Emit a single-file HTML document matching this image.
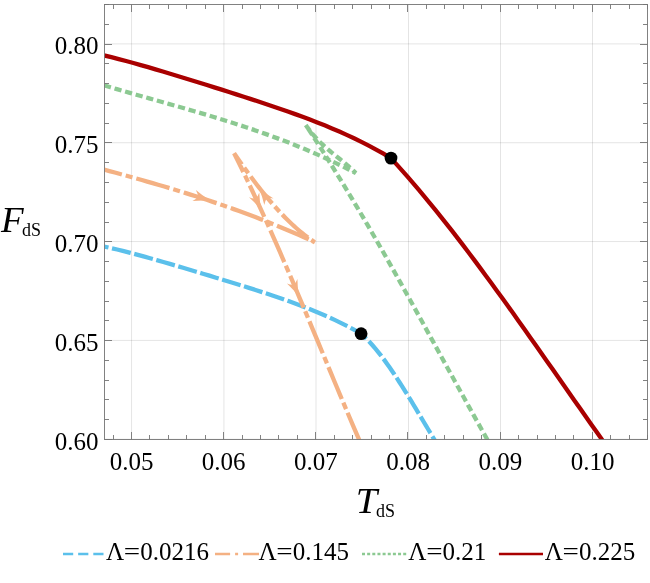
<!DOCTYPE html>
<html><head><meta charset="utf-8"><title>F_dS vs T_dS</title>
<style>
html,body{margin:0;padding:0;background:#fff;}
body{width:650px;height:583px;position:relative;overflow:hidden;font-family:"Liberation Serif",serif;}
</style></head><body>
<svg width="650" height="583" viewBox="0 0 650 583" style="position:absolute;left:0;top:0;will-change:transform">
<rect x="0" y="0" width="650" height="583" fill="#ffffff"/>
<g stroke="#000" stroke-opacity="0.13" stroke-width="0.85" fill="none"><line x1="131.57" y1="4.50" x2="131.57" y2="439.50"/><line x1="223.95" y1="4.50" x2="223.95" y2="439.50"/><line x1="316.00" y1="4.50" x2="316.00" y2="439.50"/><line x1="408.50" y1="4.50" x2="408.50" y2="439.50"/><line x1="500.50" y1="4.50" x2="500.50" y2="439.50"/><line x1="592.50" y1="4.50" x2="592.50" y2="439.50"/><line x1="104.50" y1="439.24" x2="647.50" y2="439.24"/><line x1="104.50" y1="340.40" x2="647.50" y2="340.40"/><line x1="104.50" y1="241.57" x2="647.50" y2="241.57"/><line x1="104.50" y1="142.73" x2="647.50" y2="142.73"/><line x1="104.50" y1="43.90" x2="647.50" y2="43.90"/></g>
<defs><clipPath id="c"><rect x="104.50" y="4.50" width="543.00" height="435.00"/></clipPath></defs>
<g clip-path="url(#c)" fill="none" stroke-width="4.30" stroke-linejoin="miter"><path d="M104.00 246.52 L110.59 247.98 L117.18 249.53 L123.77 251.15 L130.36 252.84 L136.95 254.58 L143.54 256.37 L150.13 258.20 L156.72 260.07 L163.31 261.96 L169.90 263.88 L176.49 265.81 L183.08 267.77 L189.67 269.73 L196.26 271.71 L202.85 273.69 L209.44 275.68 L216.03 277.69 L222.62 279.70 L229.21 281.72 L235.79 283.76 L242.38 285.81 L248.97 287.88 L255.56 289.98 L262.15 292.12 L268.74 294.28 L275.33 296.49 L281.92 298.76 L288.51 301.08 L295.10 303.47 L301.69 305.94 L308.28 308.50 L314.87 311.16 L321.46 313.93 L328.05 316.83 L334.64 319.86 L341.23 323.06 L347.82 326.41 L354.41 329.96 L361.00 333.70 L363.03 335.50 L365.05 337.41 L367.08 339.41 L369.10 341.51 L371.13 343.70 L373.15 345.98 L375.18 348.35 L377.21 350.80 L379.23 353.33 L381.26 355.94 L383.28 358.61 L385.31 361.36 L387.33 364.17 L389.36 367.04 L391.38 369.97 L393.41 372.96 L395.44 375.99 L397.46 379.08 L399.49 382.21 L401.51 385.38 L403.54 388.59 L405.56 391.83 L407.59 395.10 L409.62 398.40 L411.64 401.73 L413.67 405.07 L415.69 408.44 L417.72 411.81 L419.74 415.20 L421.77 418.59 L423.79 421.99 L425.82 425.38 L427.85 428.77 L429.87 432.16 L431.90 435.54 L433.92 438.90 L435.95 442.24 L437.97 445.56 L440.00 448.86" stroke="#5bc0eb" stroke-dasharray="19.3 3.6" stroke-dashoffset="14.7"/><path d="M104.00 169.61 L109.41 171.07 L114.81 172.53 L120.22 174.01 L125.62 175.50 L131.03 177.00 L136.43 178.51 L141.84 180.04 L147.24 181.58 L152.65 183.14 L158.05 184.72 L163.46 186.31 L168.86 187.92 L174.27 189.56 L179.67 191.21 L185.08 192.89 L190.48 194.59 L195.89 196.31 L201.29 198.06 L206.70 199.83 L212.10 201.63 L217.51 203.46 L222.91 205.32 L228.32 207.20 L233.72 209.12 L239.13 211.07 L244.53 213.05 L249.94 215.06 L255.34 217.11 L260.75 219.20 L266.15 221.32 L271.56 223.48 L276.96 225.67 L282.37 227.91 L287.77 230.18 L293.18 232.50 L298.58 234.86 L303.99 237.26 L309.39 239.71 L314.80 242.20 L312.73 240.85 L310.66 239.45 L308.59 237.98 L306.52 236.46 L304.45 234.88 L302.38 233.24 L300.32 231.55 L298.25 229.80 L296.18 228.00 L294.11 226.15 L292.04 224.25 L289.97 222.29 L287.90 220.29 L285.83 218.23 L283.76 216.13 L281.69 213.98 L279.62 211.78 L277.55 209.53 L275.48 207.24 L273.42 204.91 L271.35 202.53 L269.28 200.11 L267.21 197.64 L265.14 195.14 L263.07 192.60 L261.00 190.01 L258.93 187.39 L256.86 184.73 L254.79 182.03 L252.72 179.30 L250.65 176.53 L248.58 173.72 L246.52 170.89 L244.45 168.02 L242.38 165.11 L240.31 162.18 L238.24 159.22 L236.17 156.22 L234.10 153.20 L237.84 160.76 L241.54 168.32 L245.19 175.88 L248.81 183.44 L252.38 190.99 L255.91 198.55 L259.40 206.11 L262.86 213.67 L266.29 221.23 L269.69 228.79 L273.05 236.35 L276.39 243.91 L279.70 251.47 L282.99 259.03 L286.26 266.58 L289.51 274.14 L292.73 281.70 L295.94 289.26 L299.14 296.82 L302.32 304.38 L305.49 311.94 L308.65 319.50 L311.81 327.06 L314.96 334.62 L318.10 342.17 L321.24 349.73 L324.38 357.29 L327.53 364.85 L330.67 372.41 L333.83 379.97 L336.98 387.53 L340.15 395.09 L343.33 402.65 L346.52 410.21 L349.72 417.76 L352.94 425.32 L356.18 432.88 L359.44 440.44 L362.72 448.00" stroke="#f4b183" stroke-dasharray="34.5 4 7 4" stroke-dashoffset="16"/><path d="M104.00 85.34 L110.46 87.25 L116.91 89.14 L123.37 91.01 L129.83 92.87 L136.28 94.71 L142.74 96.54 L149.19 98.37 L155.65 100.19 L162.11 102.01 L168.56 103.84 L175.02 105.67 L181.48 107.51 L187.93 109.37 L194.39 111.24 L200.85 113.14 L207.30 115.05 L213.76 117.00 L220.22 118.97 L226.67 120.98 L233.13 123.02 L239.58 125.10 L246.04 127.23 L252.50 129.40 L258.95 131.62 L265.41 133.89 L271.87 136.22 L278.32 138.61 L284.78 141.06 L291.24 143.58 L297.69 146.17 L304.15 148.82 L310.61 151.56 L317.06 154.37 L323.52 157.27 L329.97 160.25 L336.43 163.32 L342.89 166.48 L349.34 169.74 L355.80 173.10 L354.52 171.83 L353.24 170.59 L351.95 169.38 L350.67 168.21 L349.39 167.06 L348.11 165.93 L346.83 164.83 L345.54 163.74 L344.26 162.68 L342.98 161.62 L341.70 160.58 L340.42 159.54 L339.13 158.51 L337.85 157.49 L336.57 156.46 L335.29 155.43 L334.01 154.40 L332.72 153.36 L331.44 152.31 L330.16 151.24 L328.88 150.16 L327.59 149.07 L326.31 147.95 L325.03 146.81 L323.75 145.64 L322.47 144.44 L321.18 143.22 L319.90 141.96 L318.62 140.66 L317.34 139.32 L316.06 137.94 L314.77 136.52 L313.49 135.05 L312.21 133.53 L310.93 131.96 L309.65 130.34 L308.36 128.65 L307.08 126.91 L305.80 125.10 L311.23 133.38 L316.59 141.66 L321.90 149.94 L327.14 158.22 L332.33 166.50 L337.46 174.78 L342.54 183.06 L347.57 191.34 L352.55 199.62 L357.49 207.89 L362.38 216.17 L367.24 224.45 L372.06 232.73 L376.84 241.01 L381.59 249.29 L386.31 257.57 L391.00 265.85 L395.67 274.13 L400.31 282.41 L404.93 290.69 L409.54 298.97 L414.13 307.25 L418.70 315.53 L423.27 323.81 L427.83 332.09 L432.38 340.37 L436.93 348.65 L441.47 356.93 L446.02 365.21 L450.58 373.48 L455.14 381.76 L459.70 390.04 L464.28 398.32 L468.88 406.60 L473.49 414.88 L478.11 423.16 L482.76 431.44 L487.43 439.72 L492.13 448.00" stroke="#8cc992" stroke-dasharray="7.2 3.8"/><path d="M104.00 55.42 L111.35 57.21 L118.71 59.07 L126.06 61.02 L133.42 63.02 L140.77 65.08 L148.12 67.18 L155.48 69.33 L162.83 71.51 L170.18 73.71 L177.54 75.94 L184.89 78.19 L192.25 80.46 L199.60 82.75 L206.95 85.04 L214.31 87.35 L221.66 89.67 L229.02 92.01 L236.37 94.36 L243.72 96.73 L251.08 99.12 L258.43 101.53 L265.78 103.97 L273.14 106.45 L280.49 108.97 L287.85 111.53 L295.20 114.15 L302.55 116.84 L309.91 119.59 L317.26 122.43 L324.62 125.36 L331.97 128.40 L339.32 131.55 L346.68 134.84 L354.03 138.27 L361.38 141.85 L368.74 145.61 L376.09 149.56 L383.45 153.72 L390.80 158.10 L396.37 164.17 L401.94 170.36 L407.51 176.67 L413.08 183.09 L418.65 189.63 L424.22 196.27 L429.78 203.01 L435.35 209.85 L440.92 216.79 L446.49 223.81 L452.06 230.92 L457.63 238.12 L463.20 245.39 L468.77 252.73 L474.34 260.14 L479.91 267.62 L485.48 275.16 L491.05 282.75 L496.62 290.40 L502.18 298.09 L507.75 305.83 L513.32 313.61 L518.89 321.43 L524.46 329.28 L530.03 337.15 L535.60 345.05 L541.17 352.97 L546.74 360.90 L552.31 368.85 L557.88 376.80 L563.45 384.75 L569.02 392.71 L574.58 400.65 L580.15 408.59 L585.72 416.52 L591.29 424.43 L596.86 432.31 L602.43 440.17 L608.00 448.00" stroke="#a90000"/></g>
<path d="M210.40 200.60 Q200.76 200.07 192.47 200.92 Q196.47 198.90 197.81 196.63 Q198.01 194.00 195.90 190.05 Q202.20 195.51 210.40 200.60 Z" fill="#f4b183"/>
<path d="M258.90 188.00 Q266.34 194.14 273.52 198.38 Q269.10 197.64 266.68 198.67 Q264.96 200.66 264.31 205.09 Q262.47 196.97 258.90 188.00 Z" fill="#f4b183"/>
<path d="M261.30 210.20 Q255.18 202.74 248.95 197.20 Q253.14 198.78 255.72 198.24 Q257.79 196.61 259.28 192.38 Q259.52 200.71 261.30 210.20 Z" fill="#f4b183"/>
<path d="M299.00 296.80 Q293.06 289.19 286.97 283.50 Q291.12 285.18 293.72 284.70 Q295.83 283.13 297.42 278.94 Q297.45 287.27 299.00 296.80 Z" fill="#f4b183"/>
<circle cx="391.0" cy="158.1" r="6.4" fill="#000"/>
<circle cx="361.1" cy="333.7" r="6.4" fill="#000"/>
<g stroke="#747474" stroke-width="0.9" fill="none"><line x1="113.50" y1="439.50" x2="113.50" y2="435.00"/><line x1="113.50" y1="4.50" x2="113.50" y2="9.00"/><line x1="131.50" y1="439.50" x2="131.50" y2="432.00"/><line x1="131.50" y1="4.50" x2="131.50" y2="12.00"/><line x1="149.50" y1="439.50" x2="149.50" y2="435.00"/><line x1="149.50" y1="4.50" x2="149.50" y2="9.00"/><line x1="168.50" y1="439.50" x2="168.50" y2="435.00"/><line x1="168.50" y1="4.50" x2="168.50" y2="9.00"/><line x1="186.50" y1="439.50" x2="186.50" y2="435.00"/><line x1="186.50" y1="4.50" x2="186.50" y2="9.00"/><line x1="205.50" y1="439.50" x2="205.50" y2="435.00"/><line x1="205.50" y1="4.50" x2="205.50" y2="9.00"/><line x1="223.50" y1="439.50" x2="223.50" y2="432.00"/><line x1="223.50" y1="4.50" x2="223.50" y2="12.00"/><line x1="242.50" y1="439.50" x2="242.50" y2="435.00"/><line x1="242.50" y1="4.50" x2="242.50" y2="9.00"/><line x1="260.50" y1="439.50" x2="260.50" y2="435.00"/><line x1="260.50" y1="4.50" x2="260.50" y2="9.00"/><line x1="278.50" y1="439.50" x2="278.50" y2="435.00"/><line x1="278.50" y1="4.50" x2="278.50" y2="9.00"/><line x1="297.50" y1="439.50" x2="297.50" y2="435.00"/><line x1="297.50" y1="4.50" x2="297.50" y2="9.00"/><line x1="315.50" y1="439.50" x2="315.50" y2="432.00"/><line x1="315.50" y1="4.50" x2="315.50" y2="12.00"/><line x1="334.50" y1="439.50" x2="334.50" y2="435.00"/><line x1="334.50" y1="4.50" x2="334.50" y2="9.00"/><line x1="352.50" y1="439.50" x2="352.50" y2="435.00"/><line x1="352.50" y1="4.50" x2="352.50" y2="9.00"/><line x1="371.50" y1="439.50" x2="371.50" y2="435.00"/><line x1="371.50" y1="4.50" x2="371.50" y2="9.00"/><line x1="389.50" y1="439.50" x2="389.50" y2="435.00"/><line x1="389.50" y1="4.50" x2="389.50" y2="9.00"/><line x1="407.50" y1="439.50" x2="407.50" y2="432.00"/><line x1="407.50" y1="4.50" x2="407.50" y2="12.00"/><line x1="426.50" y1="439.50" x2="426.50" y2="435.00"/><line x1="426.50" y1="4.50" x2="426.50" y2="9.00"/><line x1="444.50" y1="439.50" x2="444.50" y2="435.00"/><line x1="444.50" y1="4.50" x2="444.50" y2="9.00"/><line x1="463.50" y1="439.50" x2="463.50" y2="435.00"/><line x1="463.50" y1="4.50" x2="463.50" y2="9.00"/><line x1="481.50" y1="439.50" x2="481.50" y2="435.00"/><line x1="481.50" y1="4.50" x2="481.50" y2="9.00"/><line x1="500.50" y1="439.50" x2="500.50" y2="432.00"/><line x1="500.50" y1="4.50" x2="500.50" y2="12.00"/><line x1="518.50" y1="439.50" x2="518.50" y2="435.00"/><line x1="518.50" y1="4.50" x2="518.50" y2="9.00"/><line x1="537.50" y1="439.50" x2="537.50" y2="435.00"/><line x1="537.50" y1="4.50" x2="537.50" y2="9.00"/><line x1="555.50" y1="439.50" x2="555.50" y2="435.00"/><line x1="555.50" y1="4.50" x2="555.50" y2="9.00"/><line x1="573.50" y1="439.50" x2="573.50" y2="435.00"/><line x1="573.50" y1="4.50" x2="573.50" y2="9.00"/><line x1="592.50" y1="439.50" x2="592.50" y2="432.00"/><line x1="592.50" y1="4.50" x2="592.50" y2="12.00"/><line x1="610.50" y1="439.50" x2="610.50" y2="435.00"/><line x1="610.50" y1="4.50" x2="610.50" y2="9.00"/><line x1="629.50" y1="439.50" x2="629.50" y2="435.00"/><line x1="629.50" y1="4.50" x2="629.50" y2="9.00"/><line x1="647.50" y1="439.50" x2="647.50" y2="435.00"/><line x1="647.50" y1="4.50" x2="647.50" y2="9.00"/><line x1="104.50" y1="439.50" x2="112.00" y2="439.50"/><line x1="647.50" y1="439.50" x2="640.00" y2="439.50"/><line x1="104.50" y1="419.50" x2="109.00" y2="419.50"/><line x1="647.50" y1="419.50" x2="643.00" y2="419.50"/><line x1="104.50" y1="399.50" x2="109.00" y2="399.50"/><line x1="647.50" y1="399.50" x2="643.00" y2="399.50"/><line x1="104.50" y1="380.50" x2="109.00" y2="380.50"/><line x1="647.50" y1="380.50" x2="643.00" y2="380.50"/><line x1="104.50" y1="360.50" x2="109.00" y2="360.50"/><line x1="647.50" y1="360.50" x2="643.00" y2="360.50"/><line x1="104.50" y1="340.50" x2="112.00" y2="340.50"/><line x1="647.50" y1="340.50" x2="640.00" y2="340.50"/><line x1="104.50" y1="320.50" x2="109.00" y2="320.50"/><line x1="647.50" y1="320.50" x2="643.00" y2="320.50"/><line x1="104.50" y1="301.50" x2="109.00" y2="301.50"/><line x1="647.50" y1="301.50" x2="643.00" y2="301.50"/><line x1="104.50" y1="281.50" x2="109.00" y2="281.50"/><line x1="647.50" y1="281.50" x2="643.00" y2="281.50"/><line x1="104.50" y1="261.50" x2="109.00" y2="261.50"/><line x1="647.50" y1="261.50" x2="643.00" y2="261.50"/><line x1="104.50" y1="241.50" x2="112.00" y2="241.50"/><line x1="647.50" y1="241.50" x2="640.00" y2="241.50"/><line x1="104.50" y1="222.50" x2="109.00" y2="222.50"/><line x1="647.50" y1="222.50" x2="643.00" y2="222.50"/><line x1="104.50" y1="202.50" x2="109.00" y2="202.50"/><line x1="647.50" y1="202.50" x2="643.00" y2="202.50"/><line x1="104.50" y1="182.50" x2="109.00" y2="182.50"/><line x1="647.50" y1="182.50" x2="643.00" y2="182.50"/><line x1="104.50" y1="162.50" x2="109.00" y2="162.50"/><line x1="647.50" y1="162.50" x2="643.00" y2="162.50"/><line x1="104.50" y1="142.50" x2="112.00" y2="142.50"/><line x1="647.50" y1="142.50" x2="640.00" y2="142.50"/><line x1="104.50" y1="123.50" x2="109.00" y2="123.50"/><line x1="647.50" y1="123.50" x2="643.00" y2="123.50"/><line x1="104.50" y1="103.50" x2="109.00" y2="103.50"/><line x1="647.50" y1="103.50" x2="643.00" y2="103.50"/><line x1="104.50" y1="83.50" x2="109.00" y2="83.50"/><line x1="647.50" y1="83.50" x2="643.00" y2="83.50"/><line x1="104.50" y1="63.50" x2="109.00" y2="63.50"/><line x1="647.50" y1="63.50" x2="643.00" y2="63.50"/><line x1="104.50" y1="44.50" x2="112.00" y2="44.50"/><line x1="647.50" y1="44.50" x2="640.00" y2="44.50"/><line x1="104.50" y1="24.50" x2="109.00" y2="24.50"/><line x1="647.50" y1="24.50" x2="643.00" y2="24.50"/><line x1="104.50" y1="4.50" x2="109.00" y2="4.50"/><line x1="647.50" y1="4.50" x2="643.00" y2="4.50"/><rect x="104.50" y="4.50" width="543.00" height="435.00"/></g>
<g font-family="'Liberation Serif', serif" font-size="25.0" fill="#000"><text x="131.55" y="470" text-anchor="middle">0.05</text><text x="223.74" y="470" text-anchor="middle">0.06</text><text x="315.93" y="470" text-anchor="middle">0.07</text><text x="408.12" y="470" text-anchor="middle">0.08</text><text x="500.31" y="470" text-anchor="middle">0.09</text><text x="592.50" y="470" text-anchor="middle">0.10</text><text x="98.6" y="449.74" text-anchor="end">0.60</text><text x="98.6" y="350.90" text-anchor="end">0.65</text><text x="98.6" y="252.07" text-anchor="end">0.70</text><text x="98.6" y="153.23" text-anchor="end">0.75</text><text x="98.6" y="54.40" text-anchor="end">0.80</text></g>
<g font-family="'Liberation Serif', serif" fill="#000"><text transform="translate(1.0 231.8) scale(1.03 1)" x="0" y="0" font-size="36" font-style="italic">F</text><text x="22.1" y="235.9" font-size="18">dS</text><text transform="translate(368.7 512.7) scale(1.07 1)" x="-12.2" y="0" font-size="36" font-style="italic">T</text><text x="376.1" y="516.9" font-size="18">dS</text></g>
<line x1="63.0" y1="554.05" x2="103.9" y2="554.05" stroke="#5bc0eb" stroke-width="2.6" stroke-dasharray="10.2 4.95"/><line x1="215.0" y1="554.05" x2="259.0" y2="554.05" stroke="#f4b183" stroke-width="2.6" stroke-dasharray="15.1 5 3 4.9 16 1"/><line x1="362.0" y1="554.05" x2="406.3" y2="554.05" stroke="#8cc992" stroke-width="2.6" stroke-dasharray="3 2.15"/><line x1="498.9" y1="554.05" x2="543.0" y2="554.05" stroke="#a90000" stroke-width="2.6"/>
<g font-family="'Liberation Serif', serif" font-size="25" fill="#000"><text x="106.00" y="560.2">Λ</text><text transform="translate(132.03 560.2) scale(1.16 1)" x="0" y="0" text-anchor="middle">=</text><text x="140.30" y="560.2">0.0216</text><text x="258.50" y="560.2">Λ</text><text transform="translate(284.53 560.2) scale(1.16 1)" x="0" y="0" text-anchor="middle">=</text><text x="292.80" y="560.2">0.145</text><text x="408.30" y="560.2">Λ</text><text transform="translate(434.33 560.2) scale(1.16 1)" x="0" y="0" text-anchor="middle">=</text><text x="442.60" y="560.2">0.21</text><text x="544.75" y="560.2">Λ</text><text transform="translate(570.78 560.2) scale(1.16 1)" x="0" y="0" text-anchor="middle">=</text><text x="579.05" y="560.2">0.225</text></g>
</svg>
</body></html>
